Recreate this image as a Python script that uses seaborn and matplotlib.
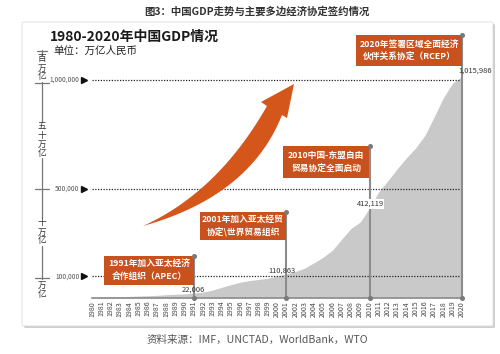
import numpy as np
import pandas as pd
import matplotlib
matplotlib.use("Agg")
import matplotlib.pyplot as plt
import seaborn as sns
from matplotlib.patches import Rectangle, FancyBboxPatch, Polygon

# ---------------- data ----------------
years = list(range(1980, 2021))
gdp = [4588, 4936, 5373, 6021, 7279, 9099, 10376, 12175, 15180, 17180,
       18873, 22006, 27195, 35673, 48638, 61340, 71814, 79715, 85196, 90564,
       100280, 110863, 121717, 137422, 161840, 187319, 219439, 270092, 319245, 348518,
       412119, 487940, 538580, 592963, 643563, 688858, 746395, 832036, 919281, 986515,
       1015986]
ref_levels = [100000, 500000, 1000000]
ref_labels = ["100,000", "500,000", "1,000,000"]
event_years = [1991, 2001, 2010, 2020]
event_values = [22006, 110863, 412119, 1015986]
event_value_labels = ["22,006", "110,863", "412,119", "1,015,986"]
event_texts = ["1991年加入亚太经济\n合作组织（APEC）",
               "2001年加入亚太经贸\n协定\\世界贸易组织",
               "2010中国-东盟自由\n贸易协定全面启动",
               "2020年签署区域全面经济\n伙伴关系协定（RCEP）"]
bracket_labels = ["百万亿", "五十万亿", "十万亿", "万亿"]

df = pd.DataFrame({"year": years, "gdp": gdp})

# ---------------- style ----------------
sns.set_theme(style="white")
plt.rcParams['font.family'] = ['Noto Sans CJK SC', 'DejaVu Sans']

W, H = 500, 354
fig = plt.figure(figsize=(5.0, 3.54), dpi=100)
fig.patch.set_facecolor("white")

def fx(x):
    return x / W

def fy(y):
    return 1 - y / H

ORANGE = "#c9511d"
GRAY_AREA = "#c9c9c9"
GRAY_LINE = "#8c8c8c"

# card with shadow
shadow = FancyBboxPatch((fx(24), fy(328)), fx(471), 304 / H,
                        boxstyle="round,pad=0,rounding_size=0.004",
                        transform=fig.transFigure, facecolor="#cfcfcf",
                        edgecolor="none", zorder=-3)
card = FancyBboxPatch((fx(22), fy(326)), fx(471), 304 / H,
                      boxstyle="round,pad=0,rounding_size=0.004",
                      transform=fig.transFigure, facecolor="white",
                      edgecolor="#dddddd", linewidth=0.6, zorder=-2)
fig.patches.extend([shadow, card])

# captions
fig.text(fx(257), fy(11), "图3：中国GDP走势与主要多边经济协定签约情况",
         ha="center", va="center", fontsize=7.5, fontweight="bold", color="#333333")
fig.text(fx(257), fy(340), "资料来源：IMF，UNCTAD，WorldBank，WTO",
         ha="center", va="center", fontsize=7.6, color="#555555")
fig.text(fx(50), fy(37), "1980-2020年中国GDP情况", ha="left", va="center",
         fontsize=10, fontweight="bold", color="#1a1a1a")
fig.text(fx(53), fy(51), "单位：万亿人民币", ha="left", va="center",
         fontsize=7.6, color="#222222")

# ---------------- axes ----------------
x0px, x1px = 92, 462
ybot, ytop = 298, 30
ax = fig.add_axes([fx(x0px), fy(ybot), (x1px - x0px) / W, (ybot - ytop) / H])
ax.set_facecolor("none")
ymax = (ybot - ytop) / 218 * 1e6
ax.set_xlim(1980, 2020)
ax.set_ylim(0, ymax)

sns.lineplot(data=df, x="year", y="gdp", ax=ax, color=GRAY_AREA, linewidth=0)
ax.fill_between(df["year"], 0, df["gdp"], color=GRAY_AREA, linewidth=0, zorder=1)

for s in ["top", "right", "left"]:
    ax.spines[s].set_visible(False)
ax.spines["bottom"].set_color(GRAY_LINE)
ax.spines["bottom"].set_linewidth(1.2)
ax.set_yticks([])
ax.set_xticks(years)
ax.set_xticklabels([str(y) for y in years], rotation=90, fontsize=5.1, color="#444444")
ax.tick_params(axis="x", length=0, pad=2)
ax.set_xlabel("")
ax.set_ylabel("")

yrpx = (x1px - x0px) / 40.0  # px per year

# dotted reference lines with triangle markers and labels
ax.hlines(ref_levels, 1980, 2020, colors="#222222", linestyles=(0, (1, 1.2)),
          linewidth=0.9, zorder=2)
for lv, lb in zip(ref_levels, ref_labels):
    ax.plot([1980 - 8 / yrpx], [lv], marker=">", markersize=4, color="#111111",
            clip_on=False, zorder=3)
    ax.text(1980 - 12.5 / yrpx, lv, lb, ha="right", va="center",
            fontsize=4.8, color="#555555", clip_on=False)

# event boxes (pixel layout: left, top, bottom)
box_px = [(104, 256, 285), (200, 212, 240), (283, 146, 178), (356, 35, 66)]

def ypx_to_data(p):
    return (ybot - p) / 218 * 1e6

for yr, val, vlab, txt, (lpx, tpx, bpx) in zip(event_years, event_values,
                                                event_value_labels, event_texts, box_px):
    top = ypx_to_data(tpx)
    bot = ypx_to_data(bpx)
    left = 1980 + (lpx - x0px) / yrpx
    ax.plot([yr, yr], [0, top], color=GRAY_LINE, linewidth=1.5, zorder=4,
            clip_on=False, solid_capstyle="butt")
    ax.plot([yr, yr], [0, top], linestyle="none", marker="o", markersize=2.6,
            color="#7a7a7a", clip_on=False, zorder=6)
    ax.add_patch(Rectangle((left, bot), yr - left, top - bot, facecolor=ORANGE,
                           edgecolor="none", zorder=5, clip_on=False))
    ax.text((left + yr) / 2, (top + bot) / 2, txt, ha="center", va="center",
            color="white", fontsize=6.3, fontweight="bold", linespacing=1.45,
            zorder=7, clip_on=False)

# value labels
val_pos_px = [(193, 290), (282, 271), (370, 204), (475, 71)]
for (px, py), vlab in zip(val_pos_px, event_value_labels):
    kw = {}
    if vlab == "412,119":
        kw = dict(bbox=dict(facecolor="white", edgecolor="none", pad=0.6))
    ax.text(1980 + (px - x0px) / yrpx, ypx_to_data(py), vlab, ha="center",
            va="center", fontsize=5.4, color="#333333", zorder=8,
            clip_on=False, **kw)

# ---------------- curved arrow (decoration) ----------------
def qbez(p0, c, p2, n=30):
    t = np.linspace(0, 1, n)[:, None]
    p0, c, p2 = map(np.array, (p0, c, p2))
    return (1 - t) ** 2 * p0 + 2 * (1 - t) * t * c + t ** 2 * p2

tail = (143, 226)
upper = qbez(tail, (218, 192), (267, 106))
lower = qbez(tail, (250, 196), (282, 115))
head = np.array([(261, 102), (294, 84), (287, 118)])
pts = np.vstack([upper, head, lower[::-1]])
fpts = np.column_stack([pts[:, 0] / W, 1 - pts[:, 1] / H])
fig.patches.append(Polygon(fpts, closed=True, transform=fig.transFigure,
                           facecolor="#d4561b", edgecolor="none", zorder=3))

# ---------------- left bracket ----------------
bx = 42
segs = [(50, 55), (82, 122), (158, 218), (246, 279)]
for a, b in segs:
    fig.add_artist(plt.Line2D([fx(bx), fx(bx)], [fy(a), fy(b)], color="#777777",
                              linewidth=0.9, transform=fig.transFigure))
for yy, hw in [(51, 5), (83, 7), (189, 7), (278, 7)]:
    fig.add_artist(plt.Line2D([fx(bx - hw), fx(bx + hw)], [fy(yy), fy(yy)],
                              color="#777777", linewidth=0.9, transform=fig.transFigure))
lab_centers = [68, 140, 232, 290]
for lab, cy in zip(bracket_labels, lab_centers):
    fig.text(fx(bx), fy(cy), "\n".join(lab), ha="center", va="center",
             fontsize=6.2, color="#333333", linespacing=1.0)

fig.savefig("out.png", dpi=100, facecolor="white")
